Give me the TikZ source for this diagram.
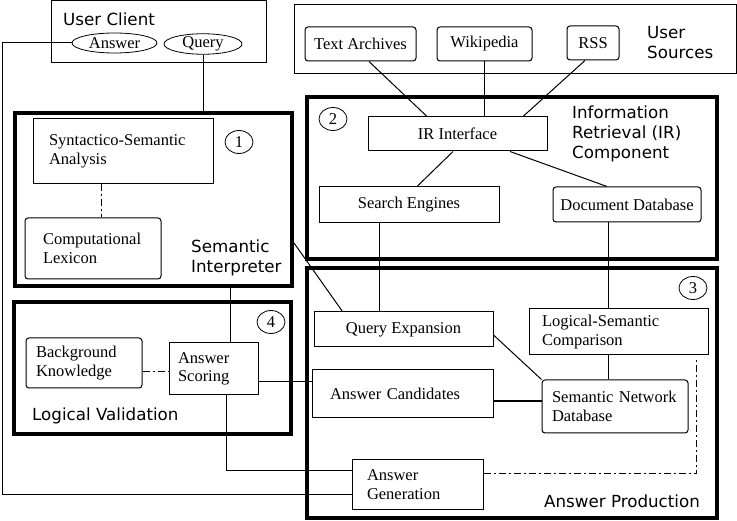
\documentclass[tikz,border=0pt]{standalone}
\usepackage{fontspec}
\setmainfont{Liberation Serif}
\newfontfamily\grpsans{DejaVu Sans}
\usetikzlibrary{shapes.geometric}
\newcommand{\boxfont}{\fontsize{16.5}{18.5}\selectfont}
\newcommand{\grpfont}{\grpsans\fontsize{16.7}{20}\selectfont}
\tikzset{
    groupbox/.style={draw, line width=4pt, inner sep=0pt},
    clientbox/.style={draw, line width=1pt, inner sep=0pt},
    module/.style={draw, line width=1pt, font=\boxfont, align=left, inner sep=0pt},
    rmodule/.style={module, rounded corners=3pt},
    endpoint/.style={draw, ellipse, line width=0.8pt, font=\boxfont, inner sep=0pt},
    numcircle/.style={draw, ellipse, line width=0.8pt, font=\boxfont, inner sep=0pt,
             minimum width=28pt, minimum height=23pt},
    grouplabel/.style={font=\grpfont, align=left, anchor=west, inner sep=0pt},
    wire/.style={draw, line width=1pt},
    dashwire/.style={draw, line width=1pt, dash pattern=on 7pt off 3pt on 2pt off 3pt}
  }
\begin{document}
\begin{tikzpicture}[x=1pt, y=-1pt]
 \useasboundingbox (0,0) rectangle (737,521);
 %User client
     \node[clientbox, minimum width=215pt, minimum height=62pt] (client) at (158.5,32) {};
     \node[grouplabel] (clientlbl) at (63,19) {User Client};
     \node[endpoint, minimum width=85pt, minimum height=20pt] (answer) at (114.5,43) {Answer};
     \node[endpoint, minimum width=78pt, minimum height=19pt] (query) at (203,44) {Query};
 %User sources
     \node[clientbox, minimum width=442pt, minimum height=69pt] (sources) at (515,39.5) {};
     \node[rmodule, minimum width=111pt, minimum height=34pt] (archives) at (360.5,44) {Text Archives};
     \node[rmodule, minimum width=95pt, minimum height=34pt] (wiki) at (484.5,44) {Wikipedia};
     \node[rmodule, minimum width=52pt, minimum height=34pt] (rss) at (593,43) {RSS};
     \node[grouplabel] (sourceslbl) at (647,42.5) {User\\Sources};
 %1 Semantic interpreter
     \node[groupbox, minimum width=277pt, minimum height=173pt] (semgrp) at (153.5,199.5) {};
     \node[numcircle] (num1) at (239,142) {1};
     \node[module, minimum width=180pt, minimum height=65pt, text width=148pt] (syntax) at (123,151.5) {Syntactico-Semantic\\Analysis};
     \node[rmodule, minimum width=136pt, minimum height=61pt, text width=100pt] (lexicon) at (93,248.5) {Computational\\Lexicon};
     \node[grouplabel] (semlbl) at (191,258) {Semantic\\Interpreter};
 %2 IR component
     \node[groupbox, minimum width=410pt, minimum height=162pt] (irgrp) at (512,178) {};
     \node[numcircle] (num2) at (333,119) {2};
     \node[module, minimum width=179pt, minimum height=34pt] (irint) at (457.5,134) {IR Interface};
     \node[grouplabel] (irlbl) at (572,134) {Information\\Retrieval (IR)\\Component};
     \node[module, minimum width=180pt, minimum height=36pt] (search) at (409,205) {Search Engines};
     \node[rmodule, minimum width=148pt, minimum height=35pt] (docdb) at (627,204.5) {Document Database};
 %3 Answer production
     \node[groupbox, minimum width=410pt, minimum height=250pt] (prodgrp) at (512,393) {};
     \node[numcircle] (num3) at (693,288) {3};
     \node[module, minimum width=179pt, minimum height=35pt] (qexp) at (403.5,329.5) {Query Expansion};
     \node[module, minimum width=179pt, minimum height=46pt, text width=153pt] (compare) at (618.5,332) {Logical-Semantic\\Comparison};
     \node[module, minimum width=181pt, minimum height=48pt, text width=145pt] (cands) at (402.5,394) {Answer Candidates};
     \node[rmodule, minimum width=146pt, minimum height=53pt, text width=126pt] (semnet) at (615,406.5) {Semantic Network\\Database};
     \node[module, minimum width=131pt, minimum height=49pt, text width=101pt] (gen) at (417.5,484.5) {Answer\\Generation};
     \node[grouplabel] (prodlbl) at (544,501) {Answer Production};
 %4 Logical validation
     \node[groupbox, minimum width=277pt, minimum height=132pt] (valgrp) at (152.5,368) {};
     \node[numcircle] (num4) at (271,322) {4};
     \node[rmodule, minimum width=116pt, minimum height=50pt, text width=96pt] (background) at (84,363) {Background\\Knowledge};
     \node[module, minimum width=89pt, minimum height=52pt, text width=71pt] (scoring) at (213.5,369) {Answer\\Scoring};
     \node[grouplabel] (vallbl) at (32,416) {Logical Validation};
 %query in, answer back
     \draw[wire] (query.south) -- (query.south |- semgrp.north);
     \coordinate (backturn) at (2,43);
     \draw[wire] (answer.west) -- (backturn) |- ([yshift=-9.5pt]gen.west);
 %sources
     \draw[wire] ([xshift=8.5pt]archives.south) -- ([xshift=-30.5pt]irint.north);
     \draw[wire] (wiki.south) -- (wiki.south |- irint.north);
     \draw[wire] ([xshift=-8pt]rss.south) -- ([xshift=65.5pt]irint.north);
     \draw[wire] ([xshift=-4.5pt]irint.south) -- ([xshift=8pt]search.north);
     \draw[wire] ([xshift=52.5pt]irint.south) -- ([xshift=-20pt]docdb.north);
     \draw[wire] ([xshift=-30pt]search.south) -- ([xshift=-30pt]search.south |- qexp.north);
     \draw[wire] ([xshift=-19pt]docdb.south) -- ([xshift=-19pt]docdb.south |- compare.north);
 %interpreter
     \draw[wire] ([yshift=-43.5pt]semgrp.east) -- ([xshift=29pt]qexp.north west);
     \draw[wire] ([xshift=16.5pt]scoring.north) -- ([xshift=16.5pt]scoring.north |- semgrp.south);
     \draw[dashwire] ([xshift=-22pt]syntax.south) -- ([xshift=-22pt]syntax.south |- lexicon.north);
 %validation
     \draw[dashwire] ([yshift=-9pt]background.east) -- ([yshift=-9pt]background.east -| scoring.west);
     \draw[wire] ([yshift=-13pt]scoring.east) -- ([yshift=-13pt]scoring.east -| cands.west);
     \draw[wire] ([xshift=12.5pt]scoring.south) |- ([yshift=13.5pt]gen.west);
 %production
     \draw[wire] ([yshift=-5.5pt]qexp.east) -- (semnet.north west);
     \draw[wire, line width=2pt] ([yshift=-7pt]cands.east) -- ([yshift=-7pt]cands.east -| semnet.west);
     \draw[wire] ([xshift=-10.5pt]compare.south) -- ([xshift=-10.5pt]compare.south |- semnet.north);
     \draw[dashwire] ([yshift=10.5pt]gen.east) -| ([xshift=-12pt,yshift=-4pt]compare.south east);
\end{tikzpicture}
\end{document}
